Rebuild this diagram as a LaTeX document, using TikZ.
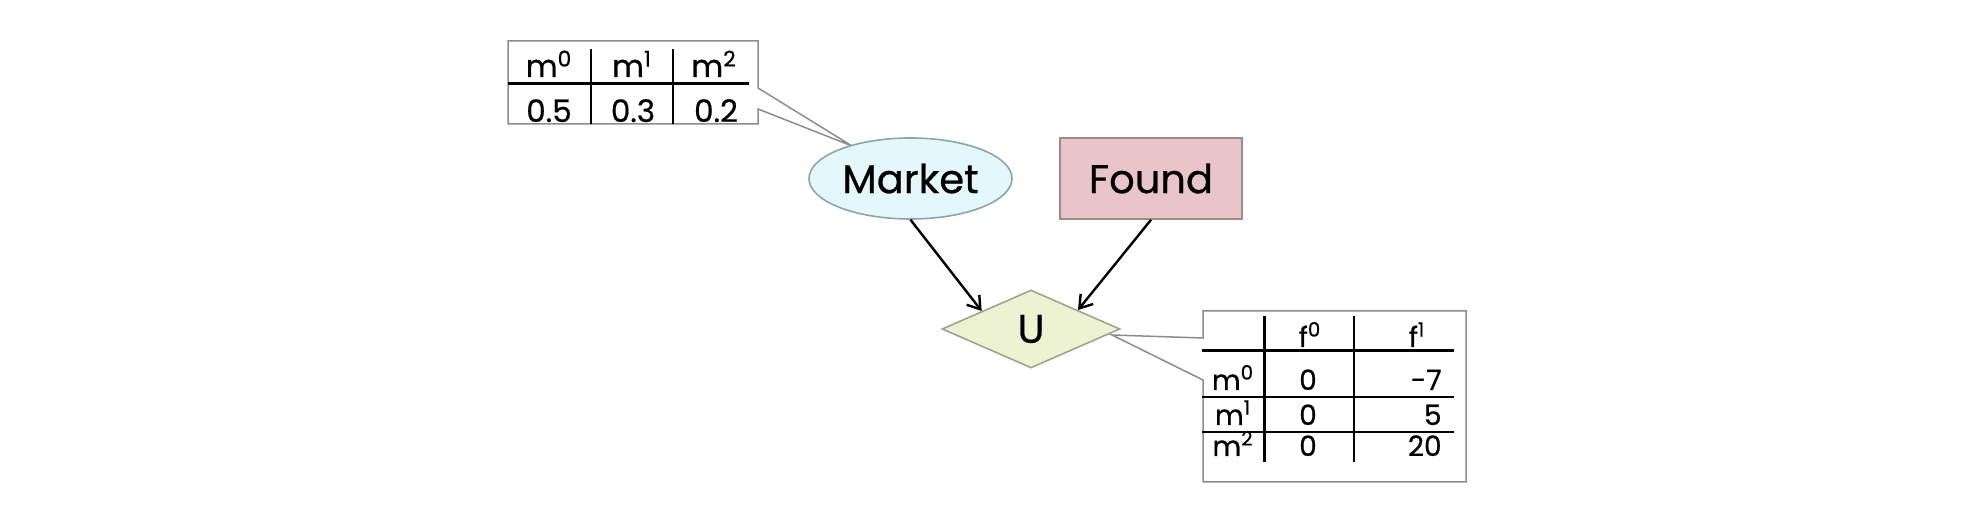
\documentclass[tikz,border=0pt]{standalone}
\usepackage{fontspec}
\setmainfont{Poppins}[FakeBold=0.6]
\usetikzlibrary{shapes.geometric,arrows.meta}
\definecolor{mktfill}{HTML}{E4F8FB}
\definecolor{mktdraw}{HTML}{8AA6A8}
\definecolor{fndfill}{HTML}{E9C5CA}
\definecolor{fnddraw}{HTML}{9C8A8C}
\definecolor{ufill}{HTML}{EDF2D3}
\definecolor{udraw}{HTML}{9EA58C}
\definecolor{tabdraw}{HTML}{8C8C8C}
\begin{document}
\begin{tikzpicture}[x=0.5pt,y=-0.5pt,
  box/.style={draw=tabdraw,line width=0.75pt,fill=white},
  rulethick/.style={line width=1.5pt},
  rulemid/.style={line width=0.9pt},
  rulethin/.style={line width=0.6pt},
  cellA/.style={font=\fontsize{15.5}{18}\selectfont,anchor=base,inner sep=0},
  cellB/.style={font=\fontsize{14}{17}\selectfont,anchor=base,inner sep=0},
  cellBr/.style={cellB,anchor=base east},
  nodefont/.style={font=\fontsize{20}{24}\selectfont},
  link/.style={line width=1.2pt,-{Straight Barb[length=6pt,width=8pt]}}
]
\useasboundingbox (0,0) rectangle (1988,512);
% top table (prior of Market)
\coordinate (mtip) at (852,146);
\draw[box] (508,41) -- (758,41) -- (758,88) -- (mtip) -- (758,109) -- (758,124) -- (508,124) -- cycle;
\draw[rulethick] (508,84) -- (749,84);
\draw[rulemid] (591,49) -- (591,124);
\draw[rulemid] (673,49) -- (673,124);
\node[cellA] (h0) at (549,77) {m\textsuperscript{0}};
\node[cellA] (h1) at (632,77) {m\textsuperscript{1}};
\node[cellA] (h2) at (714,77) {m\textsuperscript{2}};
\node[cellA] (p0) at (549,122) {0.5};
\node[cellA] (p1) at (633,122) {0.3};
\node[cellA] (p2) at (716,122) {0.2};
% bottom table (utility)
\coordinate (utip) at (1112,335);
\draw[box] (1203,311) -- (1466,311) -- (1466,482) -- (1203,482) -- (1203,380) -- (utip) -- (1203,338) -- cycle;
\draw[rulethick] (1264,316) -- (1264,462);
\draw[rulethin] (1354,316) -- (1354,462);
\draw[rulethick] (1202,351) -- (1454,351);
\draw[rulethin] (1202,397) -- (1454,397);
\draw[rulethin] (1202,432) -- (1454,432);
\node[cellB] (f0) at (1310,347) {f\textsuperscript{0}};
\node[cellB] (f1) at (1417,347) {f\textsuperscript{1}};
\node[cellB] (r0) at (1233,390) {m\textsuperscript{0}};
\node[cellB] (r1) at (1233,425) {m\textsuperscript{1}};
\node[cellB] (r2) at (1233,456) {m\textsuperscript{2}};
\node[cellB] (a0) at (1308,390) {0};
\node[cellB] (a1) at (1308,425) {0};
\node[cellB] (a2) at (1308,456) {0};
\node[cellBr] (b0) at (1442,390) {-7};
\node[cellBr] (b1) at (1442,425) {5};
\node[cellBr] (b2) at (1442,456) {20};
% nodes
\node[ellipse, draw=mktdraw, fill=mktfill, line width=0.8pt, minimum width=101.5pt, minimum height=40.5pt, inner sep=0, nodefont] (market) at (910.5,178.5) {Market};
\node[rectangle, draw=fnddraw, fill=fndfill, line width=0.8pt, minimum width=91pt, minimum height=40.5pt, inner sep=0, nodefont] (found) at (1151,178.5) {Found};
\node[diamond, draw=udraw, fill=ufill, line width=0.8pt, minimum width=89pt, minimum height=39pt, inner sep=0, nodefont] (U) at (1031,329) {U};
% arrows
\draw[link] (market.south) -- (U.160);
\draw[link] (found.south) -- (U.22);
\end{tikzpicture}
\end{document}
